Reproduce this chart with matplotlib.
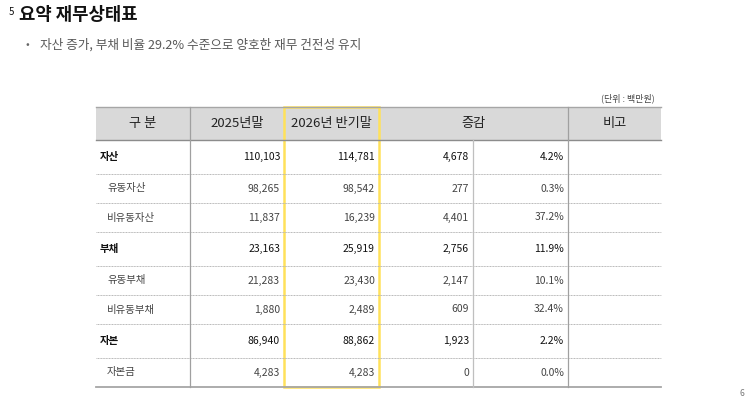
import matplotlib.pyplot as plt
from matplotlib.patches import Rectangle

plt.rcParams['font.family'] = ['Noto Sans CJK KR', 'DejaVu Sans']

# table data (백만원)
items = ["자산", "유동자산", "비유동자산", "부채", "유동부채", "비유동부채", "자본", "자본금"]
is_main = [True, False, False, True, False, False, True, False]
end_2025 = [110103, 98265, 11837, 23163, 21283, 1880, 86940, 4283]
half_2026 = [114781, 98542, 16239, 25919, 23430, 2489, 88862, 4283]
change = [4678, 277, 4401, 2756, 2147, 609, 1923, 0]
change_pct = [4.2, 0.3, 37.2, 11.9, 10.1, 32.4, 2.2, 0.0]
headers = ["구 분", "2025년말", "2026년 반기말", "증감", "비고"]

W, H = 755, 407
fig = plt.figure(figsize=(W / 100, H / 100), dpi=100)
ax = fig.add_axes([0, 0, 1, 1])
ax.set_xlim(0, W)
ax.set_ylim(H, 0)
ax.axis("off")

# title and bullet
ax.text(9, 12, "5", fontsize=7, ha="left", va="center", color="#111111")
ax.text(19, 15, "요약 재무상태표", fontsize=12.8, fontweight="bold",
        ha="left", va="center", color="#111111")
ax.text(25, 45, "•", fontsize=8, ha="left", va="center", color="#666666")
ax.text(40, 45, "자산 증가, 부채 비율 29.2% 수준으로 양호한 재무 건전성 유지",
        fontsize=9.15, ha="left", va="center", color="#595959")
ax.text(655, 98, "(단위 : 백만원)", fontsize=6.5, ha="right", va="center", color="#444444")
ax.text(742, 394, "6", fontsize=6, ha="center", va="center", color="#777777")

# table geometry
left, right = 96, 661
col_x = [96, 190, 284, 379, 473, 568, 661]
head_top, head_bot = 107, 140
row_h = [34 if m else 29 for m in is_main]
row_edges = [head_bot]
for h in row_h:
    row_edges.append(row_edges[-1] + h)

# header
ax.add_patch(Rectangle((left, head_top), right - left, head_bot - head_top,
                       facecolor="#D9D9D9", edgecolor="none"))
ax.plot([left, right], [head_top, head_top], color="#A6A6A6", lw=1.0)
ax.plot([left, right], [head_bot, head_bot], color="#8C8C8C", lw=1.0)
head_cx = [(col_x[0] + col_x[1]) / 2, (col_x[1] + col_x[2]) / 2,
           (col_x[2] + col_x[3]) / 2, (col_x[3] + col_x[5]) / 2,
           (col_x[5] + col_x[6]) / 2]
for cx, label in zip(head_cx, headers):
    ax.text(cx, (head_top + head_bot) / 2, label, fontsize=9.5,
            ha="center", va="center", color="#222222")

# rows
for i, name in enumerate(items):
    top, bot = row_edges[i], row_edges[i + 1]
    cy = (top + bot) / 2
    weight = "bold" if is_main[i] else "normal"
    col = "#111111" if is_main[i] else "#444444"
    ax.text(100 if is_main[i] else 107, cy, name, fontsize=7.5,
            fontweight=weight, ha="left", va="center", color=col)
    vals = [f"{end_2025[i]:,}", f"{half_2026[i]:,}", f"{change[i]:,}",
            f"{change_pct[i]:.1f}%"]
    for j, v in enumerate(vals):
        ax.text(col_x[j + 2] - 4, cy, v, fontsize=7.5, ha="right",
                va="center", color=col)
    if i < len(items) - 1:
        ax.plot([left, right], [bot, bot], color="#B5B5B5", lw=0.7,
                linestyle=(0, (1, 0.6)))

bottom = row_edges[-1]
ax.plot([left, right], [bottom, bottom], color="#A6A6A6", lw=1.3)

# vertical dividers
for x in [col_x[1], col_x[5]]:
    ax.plot([x, x], [head_top, bottom], color="#A0A0A0", lw=0.9)
ax.plot([col_x[4], col_x[4]], [head_bot, bottom], color="#BFBFBF", lw=0.9)

# highlight current period column
ax.add_patch(Rectangle((col_x[2], head_top), col_x[3] - col_x[2], bottom - head_top,
                       facecolor="none", edgecolor="#FFE15A", lw=1.8))

fig.savefig("out.png", dpi=100)
